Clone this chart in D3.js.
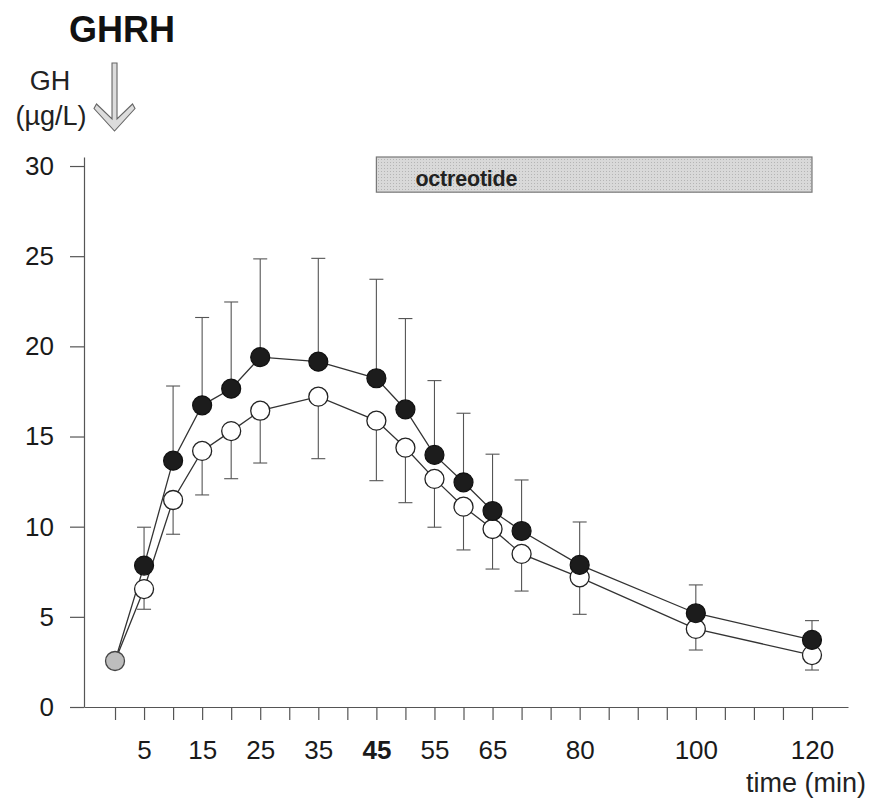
<!DOCTYPE html>
<html>
<head>
<meta charset="utf-8">
<script src="https://cdn.jsdelivr.net/npm/d3@7/dist/d3.min.js"></script>
<style>
  html, body { margin: 0; padding: 0; background: #fff; }
  svg { display: block; font-family: "Liberation Sans", Arial, Helvetica, sans-serif; }
</style>
</head>
<body>
<svg id="chart" width="872" height="799"></svg>
<script>
// ---- data ----
const times = [0, 5, 10, 15, 20, 25, 35, 45, 50, 55, 60, 65, 70, 80, 100, 120];
// filled circles: mean and upward SEM
const filledMean = [2.55, 7.84, 13.66, 16.73, 17.65, 19.4, 19.15, 18.23, 16.5, 13.98, 12.46, 10.87, 9.76, 7.88, 5.2, 3.72];
const filledSem  = [0, 2.13, 4.14, 4.87, 4.81, 5.45, 5.73, 5.49, 5.04, 4.12, 3.83, 3.15, 2.83, 2.38, 1.57, 1.07];
// open circles: mean and downward SEM
const openMean = [2.55, 6.54, 11.48, 14.2, 15.3, 16.43, 17.21, 15.88, 14.38, 12.65, 11.11, 9.87, 8.49, 7.19, 4.33, 2.88];
const openSem  = [0, 1.12, 1.9, 2.44, 2.64, 2.9, 3.44, 3.33, 3.05, 2.68, 2.4, 2.22, 2.06, 2.05, 1.17, 0.83];
const baselineTime = 0;
const baselineValue = 2.55;
const xTickValues = d3.range(0, 121, 5);
const xTickLabels = [5, 15, 25, 35, 45, 55, 65, 80, 100, 120];
const boldTick = 45;
const yTickValues = [0, 5, 10, 15, 20, 25, 30];
const octreotide = { start: 45, end: 120, label: "octreotide" };
const title = "GHRH";
const yLabel = ["GH", "(\u00b5g/L)"];
const xLabel = "time (min)";

// ---- scales ----
const svg = d3.select("#chart");
const x = d3.scaleLinear().domain([-5.34, 126.2]).range([84, 848]);
const y = d3.scaleLinear().domain([0, 30.5]).range([707, 157]);

const font = '"Liberation Sans", Arial, Helvetica, sans-serif';

// ---- axes ----
const yAxis = svg.append("g")
  .attr("transform", `translate(${x.range()[0]},0)`)
  .call(d3.axisLeft(y).tickValues(yTickValues).tickSize(14).tickSizeOuter(0).tickPadding(16));
yAxis.select(".domain").attr("stroke", "#555").attr("stroke-width", 1.2);
yAxis.selectAll(".tick line").attr("stroke", "#555").attr("stroke-width", 1.2);
yAxis.selectAll(".tick text").attr("font-size", 26).attr("font-family", font).attr("fill", "#1a1a1a");

const xAxis = svg.append("g")
  .attr("transform", `translate(0,${y(0)})`)
  .call(d3.axisBottom(x).tickValues(xTickValues).tickSize(13).tickSizeOuter(0).tickPadding(21)
    .tickFormat(d => xTickLabels.includes(d) ? String(d) : ""));
xAxis.select(".domain").attr("stroke", "#555").attr("stroke-width", 1.2);
xAxis.selectAll(".tick line").attr("stroke", "#555").attr("stroke-width", 1.2);
xAxis.selectAll(".tick text").attr("font-size", 26).attr("font-family", font).attr("fill", "#1a1a1a")
  .attr("font-weight", d => d === boldTick ? "bold" : "normal");

// ---- texts ----
svg.append("text").attr("x", 69).attr("y", 42).attr("font-size", 36).attr("font-weight", "bold")
  .attr("font-family", font).attr("fill", "#111").text(title);
svg.append("text").attr("x", 50).attr("y", 90).attr("text-anchor", "middle").attr("font-size", 27)
  .attr("font-family", font).attr("fill", "#222").text(yLabel[0]);
svg.append("text").attr("x", 51).attr("y", 125).attr("text-anchor", "middle").attr("font-size", 27)
  .attr("font-family", font).attr("fill", "#222").text(yLabel[1]);
svg.append("text").attr("x", 866).attr("y", 792).attr("text-anchor", "end").attr("font-size", 27)
  .attr("font-family", font).attr("fill", "#222").text(xLabel);

// ---- GHRH arrow ----
const ax = x(baselineTime) - 0.5;
svg.append("path")
  .attr("d", `M${ax-2.5},63 L${ax+2.5},63 L${ax+2.5},119 L${ax+18},104 L${ax+20.5},108.5 L${ax},131 L${ax-20.5},108.5 L${ax-18},104 L${ax-2.5},119 Z`)
  .attr("fill", "#dcdcdc").attr("stroke", "#666").attr("stroke-width", 1.1).attr("stroke-linejoin", "miter");

// ---- octreotide bar ----
const pat = svg.append("defs").append("pattern").attr("id", "stipple")
  .attr("width", 3).attr("height", 3).attr("patternUnits", "userSpaceOnUse");
pat.append("rect").attr("width", 3).attr("height", 3).attr("fill", "#d9d9d9");
pat.append("rect").attr("width", 1).attr("height", 1).attr("fill", "#b5b5b5");
svg.append("rect")
  .attr("x", x(octreotide.start)).attr("y", y(30.5))
  .attr("width", x(octreotide.end) - x(octreotide.start)).attr("height", y(28.55) - y(30.5))
  .attr("fill", "url(#stipple)").attr("stroke", "#777").attr("stroke-width", 1.2);
svg.append("text").attr("x", x(octreotide.start) + 39).attr("y", 186).attr("font-size", 21.5)
  .attr("font-weight", "bold").attr("letter-spacing", -0.2).attr("font-family", font)
  .attr("fill", "#222").text(octreotide.label);

// ---- series ----
const filled = times.map((t, i) => ({ t, v: filledMean[i], e: filledSem[i] }));
const open = times.map((t, i) => ({ t, v: openMean[i], e: openSem[i] }));
const line = d3.line().x(d => x(d.t)).y(d => y(d.v));
const cap = 7;

function errorBars(data, dir) {
  const g = svg.append("g").attr("stroke", "#555").attr("stroke-width", 1.1).attr("fill", "none");
  const d = data.filter(p => p.e > 0);
  g.selectAll("line.w").data(d).join("line")
    .attr("x1", p => x(p.t)).attr("x2", p => x(p.t))
    .attr("y1", p => y(p.v)).attr("y2", p => y(p.v + dir * p.e));
  g.selectAll("line.c").data(d).join("line")
    .attr("x1", p => x(p.t) - cap).attr("x2", p => x(p.t) + cap)
    .attr("y1", p => y(p.v + dir * p.e)).attr("y2", p => y(p.v + dir * p.e));
}
errorBars(filled, 1);
errorBars(open, -1);

svg.append("path").datum(open).attr("d", line).attr("fill", "none").attr("stroke", "#333").attr("stroke-width", 1.3);
svg.append("path").datum(filled).attr("d", line).attr("fill", "none").attr("stroke", "#333").attr("stroke-width", 1.3);

svg.append("g").selectAll("circle").data(open.filter(p => p.t !== baselineTime)).join("circle")
  .attr("cx", p => x(p.t)).attr("cy", p => y(p.v)).attr("r", 9.5)
  .attr("fill", "#fff").attr("stroke", "#222").attr("stroke-width", 1.3);
svg.append("g").selectAll("circle").data(filled.filter(p => p.t !== baselineTime)).join("circle")
  .attr("cx", p => x(p.t)).attr("cy", p => y(p.v)).attr("r", 9.5)
  .attr("fill", "#1c1c1c").attr("stroke", "#111").attr("stroke-width", 1.2);

svg.append("circle").attr("cx", x(baselineTime)).attr("cy", y(baselineValue)).attr("r", 9.5)
  .attr("fill", "#bdbdbd").attr("stroke", "#444").attr("stroke-width", 1.3);
</script>
</body>
</html>
